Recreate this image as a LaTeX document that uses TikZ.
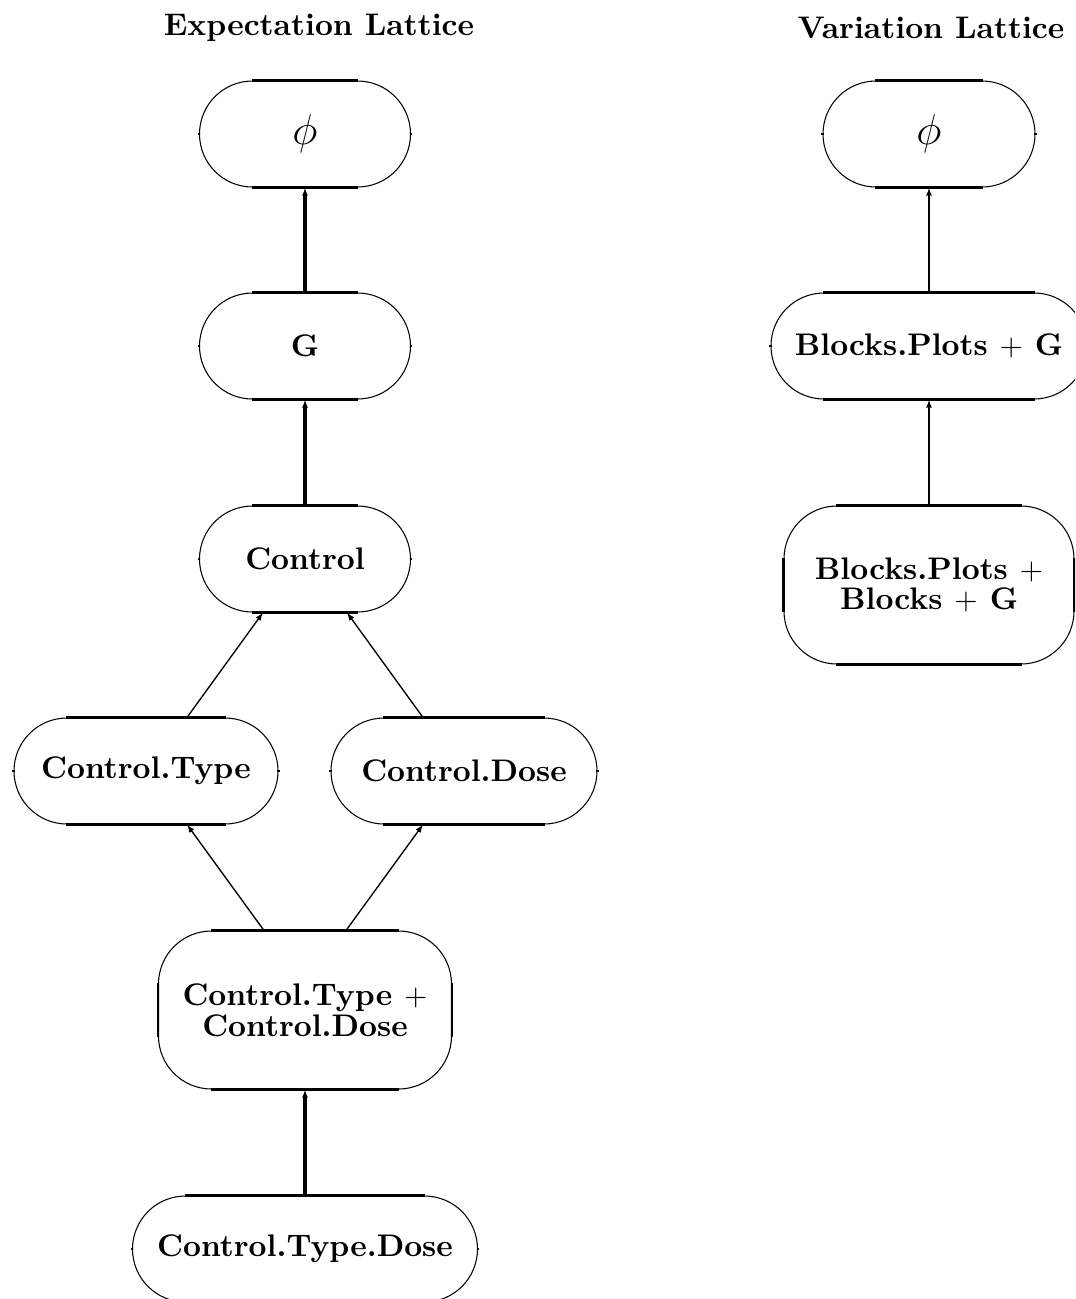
\documentclass[tikz,border=0pt]{standalone}
\usetikzlibrary{arrows.meta}
\newdimen\pxu
\pxu=0.3333pt
\tikzset{
  latbox/.style={draw, line width=0.35pt, rectangle, rounded corners=53\pxu,
    inner sep=0pt, align=center, font=\fontsize{10.4}{10.2}\selectfont\bfseries},
  flat/.style={line width=0.7pt},
  arr/.style={-{Latex[length=2.7pt,width=2pt]}},
  thickarr/.style={arr, line width=1.05pt},
  midarr/.style={arr, line width=0.6pt},
  thinarr/.style={arr, line width=0.45pt},
  title/.style={anchor=base, font=\fontsize{10.4}{12}\selectfont\bfseries},
  phitext/.style={font=\fontsize{14}{14}\selectfont}
}
% lattice node: name, x, y, width, height, text
\newcommand\latnode[6]{%
  \node[latbox, minimum width=#4\pxu, minimum height=#5\pxu] (#1) at (#2,#3) {#6};
  \draw[flat] ([xshift=53\pxu]#1.north west) -- ([xshift=-53\pxu]#1.north east);
  \draw[flat] ([xshift=53\pxu]#1.south west) -- ([xshift=-53\pxu]#1.south east);
  \draw[flat] ([yshift=-53\pxu]#1.north west) -- ([yshift=53\pxu]#1.south west);
  \draw[flat] ([yshift=-53\pxu]#1.north east) -- ([yshift=53\pxu]#1.south east);
}
\newcommand\phisym{{\fontsize{14}{14}\selectfont$\phi$}}
\begin{document}
\begin{tikzpicture}[x=0.3333pt, y=-0.3333pt]
\clip (0,0) rectangle (1075,1299);

% titles
\node[title] (t1) at (319,35) {Expectation Lattice};
\node[title] (t2) at (931,38) {Variation Lattice};

% expectation lattice
\latnode{ephi}{305}{134}{211}{106}{\phisym}
\latnode{eg}{305}{346}{211}{106}{G}
\latnode{ctl}{305}{559}{211}{106}{Control}
\latnode{ct}{146}{771}{264}{106}{Control.Type}
\latnode{cd}{464}{771}{266}{106}{Control.Dose}
\latnode{ctcd}{305}{1010}{293}{158}{Control.Type $+$\\Control.Dose}
\latnode{ctd}{305}{1249}{345}{106}{Control.Type.Dose}

\draw[thickarr] (eg.north) -- (ephi.south);
\draw[thickarr] (ctl.north) -- (eg.south);
\draw[thinarr] ([xshift=41\pxu]ct.north) -- ([xshift=-42\pxu]ctl.south);
\draw[thinarr] ([xshift=-41\pxu]cd.north) -- ([xshift=42\pxu]ctl.south);
\draw[thinarr] ([xshift=-41\pxu]ctcd.north) -- ([xshift=41\pxu]ct.south);
\draw[thinarr] ([xshift=41\pxu]ctcd.north) -- ([xshift=-41\pxu]cd.south);
\draw[thickarr] (ctd.north) -- (ctcd.south);

% variation lattice
\latnode{vphi}{929}{134}{212}{106}{\phisym}
\latnode{vbp}{929}{346}{316}{106}{Blocks.Plots $+$ G}
\latnode{vbb}{929}{585}{290}{158}{Blocks.Plots $+$\\Blocks $+$ G}

\draw[midarr] (vbp.north) -- (vphi.south);
\draw[midarr] (vbb.north) -- (vbp.south);
\end{tikzpicture}
\end{document}
